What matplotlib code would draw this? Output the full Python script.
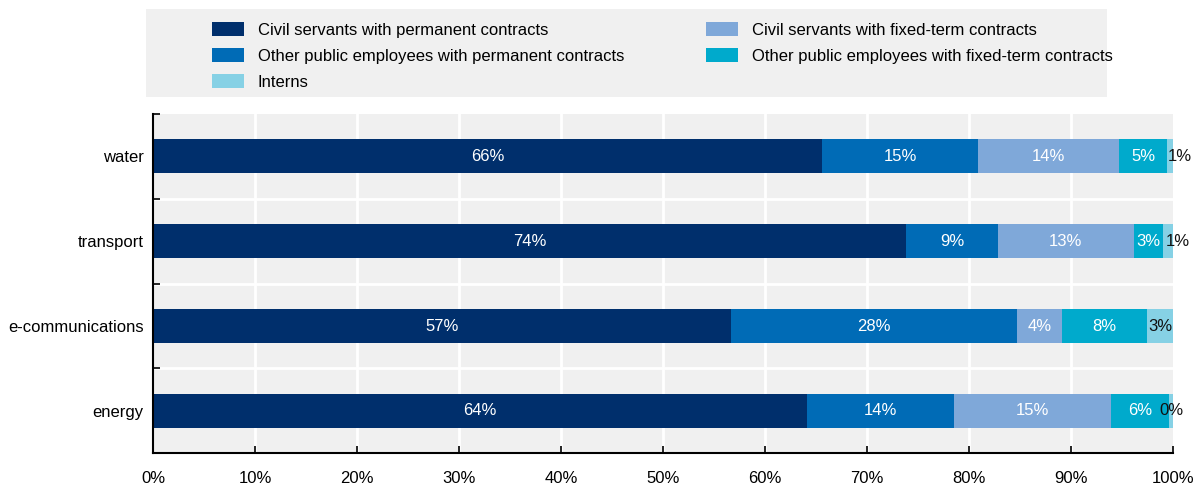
import matplotlib
matplotlib.use("Agg")
import matplotlib.pyplot as plt
import numpy as np
from matplotlib.patches import Rectangle, Patch
from matplotlib.ticker import FixedLocator

plt.rcParams['font.family'] = ['Liberation Sans', 'DejaVu Sans']

# Sectors, bottom to top
sectors = ["energy", "e-communications", "transport", "water"]

# Share of staff (%) by contract type
series_names = [
    "Civil servants with permanent contracts",
    "Other public employees with permanent contracts",
    "Civil servants with fixed-term contracts",
    "Other public employees with fixed-term contracts",
    "Interns",
]
civil_perm = [64.1, 56.6, 73.8, 65.6]
other_perm = [14.4, 28.1, 9.0, 15.3]
civil_fixed = [15.4, 4.4, 13.3, 13.8]
other_fixed = [5.7, 8.3, 2.9, 4.7]
interns = [0.4, 2.6, 1.0, 0.6]

series_values = [civil_perm, other_perm, civil_fixed, other_fixed, interns]
colors = ["#002F6C", "#006BB6", "#7FA8D9", "#00AACC", "#86D1E5"]
label_colors = ["white", "white", "white", "white", "#111111"]

xticks = np.arange(0, 101, 10)
xtick_labels = [f"{v}%" for v in xticks]

FS = 12
W, H = 1194, 486
fig = plt.figure(figsize=(W / 100, H / 100), dpi=100)
ax = fig.add_axes([153.3 / W, 1 - 453.3 / H, (1173.3 - 153.3) / W, (453.3 - 114) / H])
ax.set_facecolor("#f0f0f0")

y = np.arange(len(sectors))
left = np.zeros(len(sectors))
for name, vals, col, tcol in zip(series_names, series_values, colors, label_colors):
    vals = np.array(vals)
    ax.barh(y, vals, left=left, height=0.4, color=col, label=name, zorder=3)
    for yi, (l, v) in enumerate(zip(left, vals)):
        if 0.5 <= v < 1.5:
            # very thin segment: start the label just inside it
            ax.text(l + v / 2 - 0.2, yi, f"{round(v):.0f}%", ha="left", va="center",
                    color=tcol, fontsize=FS, zorder=4, clip_on=False)
        else:
            ax.text(l + v / 2, yi, f"{round(v):.0f}%", ha="center", va="center",
                    color=tcol, fontsize=FS, zorder=4, clip_on=False)
    left += vals

ax.set_xlim(0, 100)
ax.set_ylim(-0.5, len(sectors) - 0.5)

# white grid lines
for xv in xticks[1:-1]:
    ax.axvline(xv, color="white", lw=2, zorder=1)
for yb in np.arange(0.5, len(sectors) - 0.5, 1):
    ax.axhline(yb, color="white", lw=2, zorder=1)

ax.set_xticks(xticks)
ax.set_xticklabels(xtick_labels, fontsize=FS)
ax.set_yticks(y)
ax.set_yticklabels(sectors, fontsize=FS)
ax.yaxis.set_minor_locator(FixedLocator(np.arange(-0.5, len(sectors), 1)))
ax.tick_params(axis="y", which="major", length=0, pad=7)
ax.tick_params(axis="y", which="minor", direction="in", length=5, width=1.2, color="black")
ax.tick_params(axis="x", which="major", direction="in", length=5, width=1.2, pad=13)

for s in ["top", "right"]:
    ax.spines[s].set_visible(False)
for s in ["left", "bottom"]:
    ax.spines[s].set_linewidth(1.5)
    ax.spines[s].set_color("black")
    ax.spines[s].set_zorder(5)

# legend panel
fig.patches.append(Rectangle((146 / W, 1 - 97 / H), (1107 - 146) / W, (97 - 9) / H,
                             transform=fig.transFigure, facecolor="#f0f0f0",
                             edgecolor="none", zorder=0))
handles = [Patch(facecolor=c) for c in colors]
order = [0, 1, 4, 2, 3]
fig.legend([handles[i] for i in order], [series_names[i] for i in order],
           ncol=2, loc="upper left", bbox_to_anchor=(212 / W, 1 - 22 / H),
           frameon=False, fontsize=FS, handlelength=1.9, handleheight=0.9,
           handletextpad=0.85, labelspacing=0.62, columnspacing=4.9, borderpad=0,
           borderaxespad=0)

fig.savefig("out.png", dpi=100)
